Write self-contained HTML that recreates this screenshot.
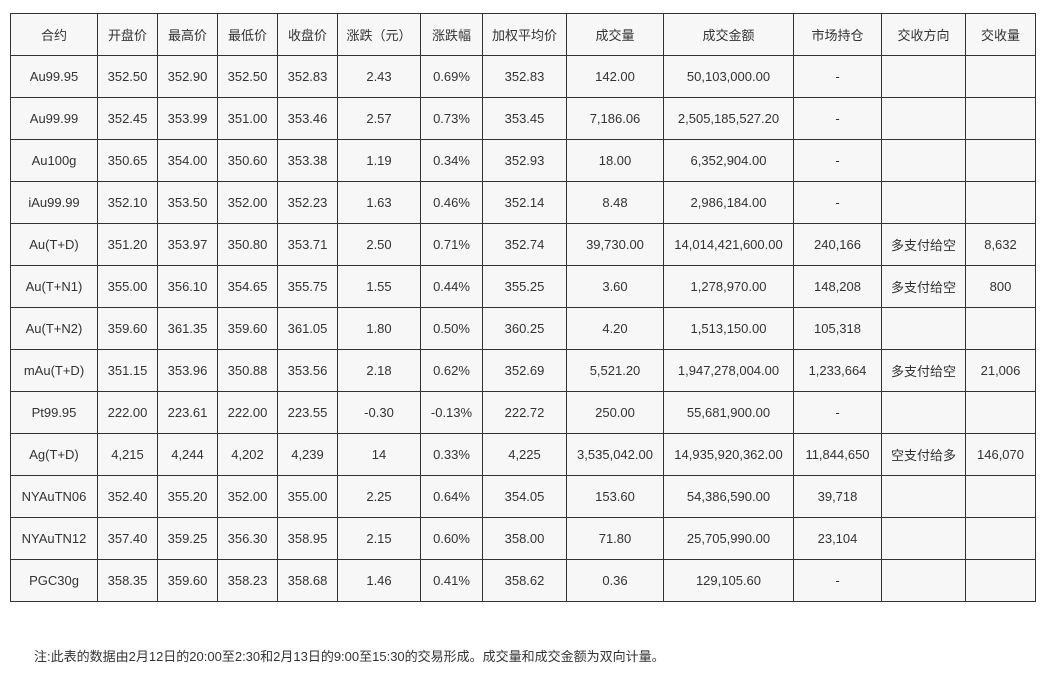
<!DOCTYPE html>
<html><head><meta charset="utf-8"><style>
html,body{margin:0;padding:0;background:#fff;width:1047px;height:682px;overflow:hidden}
table{position:absolute;left:10px;top:13px;border-collapse:collapse;table-layout:fixed;width:1026px;font-family:"Liberation Sans","Noto Sans CJK SC",sans-serif;font-size:13px;color:#333}
td{border:1px solid #333;background:#f7f7f7;height:41px;text-align:center;padding:0;white-space:nowrap}
.note{position:absolute;left:34px;top:646px;font-family:"Liberation Sans","Noto Sans CJK SC",sans-serif;font-size:13px;color:#333}
</style></head><body>
<table>
<colgroup><col style="width:87px"><col style="width:60px"><col style="width:60px"><col style="width:60px"><col style="width:60px"><col style="width:83px"><col style="width:62px"><col style="width:84px"><col style="width:97px"><col style="width:130px"><col style="width:88px"><col style="width:84px"><col style="width:70px"></colgroup>
<tr><td>合约</td><td>开盘价</td><td>最高价</td><td>最低价</td><td>收盘价</td><td>涨跌（元）</td><td>涨跌幅</td><td>加权平均价</td><td>成交量</td><td>成交金额</td><td>市场持仓</td><td>交收方向</td><td>交收量</td></tr>
<tr><td>Au99.95</td><td>352.50</td><td>352.90</td><td>352.50</td><td>352.83</td><td>2.43</td><td>0.69%</td><td>352.83</td><td>142.00</td><td>50,103,000.00</td><td>-</td><td></td><td></td></tr>
<tr><td>Au99.99</td><td>352.45</td><td>353.99</td><td>351.00</td><td>353.46</td><td>2.57</td><td>0.73%</td><td>353.45</td><td>7,186.06</td><td>2,505,185,527.20</td><td>-</td><td></td><td></td></tr>
<tr><td>Au100g</td><td>350.65</td><td>354.00</td><td>350.60</td><td>353.38</td><td>1.19</td><td>0.34%</td><td>352.93</td><td>18.00</td><td>6,352,904.00</td><td>-</td><td></td><td></td></tr>
<tr><td>iAu99.99</td><td>352.10</td><td>353.50</td><td>352.00</td><td>352.23</td><td>1.63</td><td>0.46%</td><td>352.14</td><td>8.48</td><td>2,986,184.00</td><td>-</td><td></td><td></td></tr>
<tr><td>Au(T+D)</td><td>351.20</td><td>353.97</td><td>350.80</td><td>353.71</td><td>2.50</td><td>0.71%</td><td>352.74</td><td>39,730.00</td><td>14,014,421,600.00</td><td>240,166</td><td>多支付给空</td><td>8,632</td></tr>
<tr><td>Au(T+N1)</td><td>355.00</td><td>356.10</td><td>354.65</td><td>355.75</td><td>1.55</td><td>0.44%</td><td>355.25</td><td>3.60</td><td>1,278,970.00</td><td>148,208</td><td>多支付给空</td><td>800</td></tr>
<tr><td>Au(T+N2)</td><td>359.60</td><td>361.35</td><td>359.60</td><td>361.05</td><td>1.80</td><td>0.50%</td><td>360.25</td><td>4.20</td><td>1,513,150.00</td><td>105,318</td><td></td><td></td></tr>
<tr><td>mAu(T+D)</td><td>351.15</td><td>353.96</td><td>350.88</td><td>353.56</td><td>2.18</td><td>0.62%</td><td>352.69</td><td>5,521.20</td><td>1,947,278,004.00</td><td>1,233,664</td><td>多支付给空</td><td>21,006</td></tr>
<tr><td>Pt99.95</td><td>222.00</td><td>223.61</td><td>222.00</td><td>223.55</td><td>-0.30</td><td>-0.13%</td><td>222.72</td><td>250.00</td><td>55,681,900.00</td><td>-</td><td></td><td></td></tr>
<tr><td>Ag(T+D)</td><td>4,215</td><td>4,244</td><td>4,202</td><td>4,239</td><td>14</td><td>0.33%</td><td>4,225</td><td>3,535,042.00</td><td>14,935,920,362.00</td><td>11,844,650</td><td>空支付给多</td><td>146,070</td></tr>
<tr><td>NYAuTN06</td><td>352.40</td><td>355.20</td><td>352.00</td><td>355.00</td><td>2.25</td><td>0.64%</td><td>354.05</td><td>153.60</td><td>54,386,590.00</td><td>39,718</td><td></td><td></td></tr>
<tr><td>NYAuTN12</td><td>357.40</td><td>359.25</td><td>356.30</td><td>358.95</td><td>2.15</td><td>0.60%</td><td>358.00</td><td>71.80</td><td>25,705,990.00</td><td>23,104</td><td></td><td></td></tr>
<tr><td>PGC30g</td><td>358.35</td><td>359.60</td><td>358.23</td><td>358.68</td><td>1.46</td><td>0.41%</td><td>358.62</td><td>0.36</td><td>129,105.60</td><td>-</td><td></td><td></td></tr>
</table>
<div class="note">注:此表的数据由2月12日的20:00至2:30和2月13日的9:00至15:30的交易形成。成交量和成交金额为双向计量。</div>
</body></html>
